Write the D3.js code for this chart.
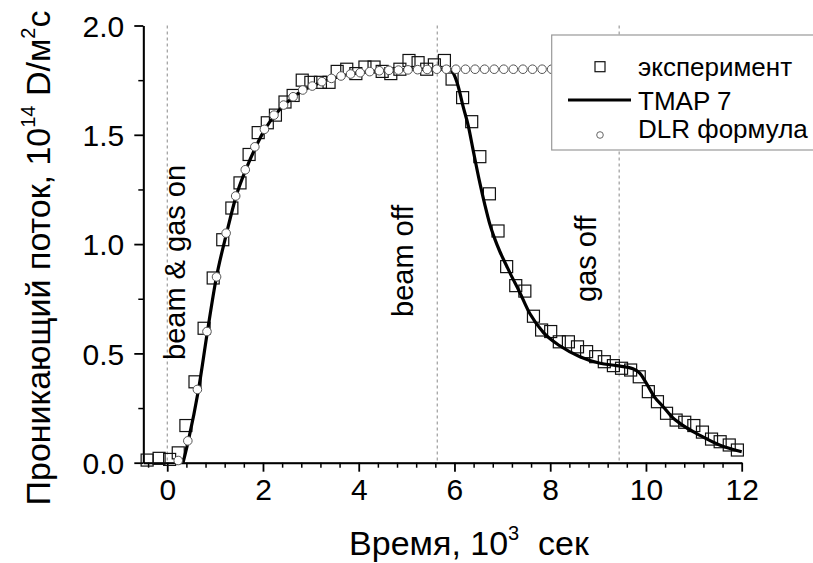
<!DOCTYPE html>
<html><head><meta charset="utf-8">
<script src="https://cdn.jsdelivr.net/npm/d3@7"></script>
<style>body{margin:0;background:#fff}svg{display:block}text{font-family:Arial,"Liberation Sans",sans-serif;fill:#000}</style>
</head><body><svg id="c" width="813" height="563"></svg>
<script>
// experiment (squares)
const expT = [-0.42,-0.17,0.05,0.23,0.39,0.58,0.77,0.96,1.16,1.35,1.52,1.71,1.90,2.09,2.26,2.46,2.63,2.82,3.00,3.20,3.38,3.55,3.75,3.94,4.13,4.32,4.49,4.67,4.86,5.05,5.24,5.42,5.58,5.79,5.95,6.17,6.36,6.53,6.73,6.91,7.09,7.28,7.47,7.65,7.82,8.01,8.19,8.38,8.57,8.76,8.95,9.13,9.32,9.49,9.68,9.86,10.05,10.24,10.43,10.63,10.81,11.00,11.18,11.37,11.55,11.74,11.91];
const expV = [0.012,0.02,0.015,0.045,0.17,0.37,0.615,0.845,1.02,1.165,1.28,1.41,1.51,1.555,1.59,1.65,1.68,1.75,1.74,1.74,1.74,1.79,1.80,1.78,1.81,1.81,1.79,1.78,1.80,1.84,1.83,1.80,1.82,1.84,1.755,1.67,1.56,1.40,1.23,1.06,0.897,0.81,0.785,0.67,0.607,0.60,0.553,0.553,0.53,0.508,0.485,0.462,0.444,0.432,0.424,0.393,0.325,0.279,0.226,0.195,0.185,0.17,0.14,0.108,0.096,0.081,0.058];
// TMAP 7 (line)
const tmapT = [0.33,0.44,0.65,0.84,1.02,1.24,1.44,1.64,1.85,2.04,2.25,2.44,2.65,2.84,3.04,3.24,3.45,3.64,3.84,4.04,4.44,4.83,5.43,5.90,5.98,6.08,6.18,6.29,6.39,6.53,6.64,6.74,6.84,6.95,7.09,7.20,7.33,7.58,7.86,8.20,8.62,9.04,9.39,9.73,9.87,10.01,10.18,10.36,10.54,10.71,11.13,11.55,12.00];
const tmapV = [0.0,0.10,0.33,0.60,0.84,1.05,1.22,1.34,1.445,1.525,1.59,1.636,1.674,1.705,1.723,1.743,1.758,1.769,1.778,1.784,1.793,1.797,1.80,1.80,1.78,1.72,1.63,1.54,1.43,1.28,1.175,1.09,1.025,0.965,0.90,0.85,0.795,0.68,0.595,0.535,0.485,0.455,0.444,0.43,0.41,0.363,0.30,0.256,0.21,0.18,0.125,0.08,0.05];
// DLR formula (circles)
const dlrT = [0.23,0.43,0.63,0.83,1.03,1.23,1.43,1.63,1.83,2.03,2.23,2.43,2.63,2.83,3.03,3.23,3.43,3.63,3.83,4.03,4.23,4.43,4.63,4.83,5.03,5.23,5.43,5.63,5.83,6.03,6.23,6.43,6.63,6.83,7.03,7.23,7.43,7.63,7.83,8.03,8.23,8.43,8.63,8.83,9.03];
const dlrV = [0.01,0.10,0.335,0.60,0.85,1.05,1.22,1.34,1.445,1.525,1.59,1.636,1.674,1.705,1.723,1.743,1.758,1.769,1.778,1.784,1.789,1.793,1.795,1.796,1.797,1.798,1.799,1.80,1.80,1.80,1.80,1.80,1.80,1.80,1.80,1.80,1.80,1.80,1.80,1.80,1.80,1.80,1.80,1.80,1.80];

const xTicks = [0,2,4,6,8,10,12];
const yTicks = [0.0,0.5,1.0,1.5,2.0];
const eventT = [0, 5.64, 9.44];
const eventLabels = ["beam & gas on","beam off","gas off"];
const legendLabels = ["эксперимент","TMAP 7","DLR формула"];

const svg = d3.select("#c");
svg.append("rect").attr("width",813).attr("height",563).attr("fill","#fff");
const x = d3.scaleLinear().domain([-0.5,12]).range([143.3,741.7]);
const y = d3.scaleLinear().domain([0,2]).range([462.7,25.5]);

// event lines
svg.append("g").selectAll("line").data(eventT).join("line")
  .attr("x1",d=>x(d)).attr("x2",d=>x(d)).attr("y1",y(2)).attr("y2",y(0))
  .attr("stroke","#888").attr("stroke-width",1).attr("stroke-dasharray","3,3");

// event labels
const evPos = [{b:185,s:360},{b:413,s:317},{b:596,s:302}];
svg.append("g").selectAll("text").data(eventLabels).join("text")
  .attr("transform",(d,i)=>`translate(${evPos[i].b},${evPos[i].s}) rotate(-90)`)
  .attr("font-size",29).text(d=>d);

// axes
const minorX = d3.range(-0.4,12,0.4).filter(v=>Math.abs(v/2-Math.round(v/2))>0.01);
const minorY = [0.25,0.75,1.25,1.75];
const gx = svg.append("g").attr("transform",`translate(0,${y(0)})`);
gx.call(d3.axisBottom(x).tickValues(minorX).tickSize(5).tickSizeOuter(0).tickFormat(""));
gx.call(g=>g.selectAll(".tick line").attr("stroke-width",1.5));
const gx2 = svg.append("g").attr("transform",`translate(0,${y(0)})`);
gx2.call(d3.axisBottom(x).tickValues(xTicks).tickSize(9).tickSizeOuter(0).tickPadding(7).tickFormat(d3.format("d")));
gx2.selectAll(".tick line").attr("stroke-width",1.8);
gx2.select(".domain").attr("stroke-width",2);
gx2.selectAll("text").attr("font-size",30).attr("font-family",null);

const gy = svg.append("g").attr("transform",`translate(${x(-0.5)},0)`);
gy.call(d3.axisLeft(y).tickValues(minorY).tickSize(5).tickSizeOuter(0).tickFormat(""));
gy.selectAll(".tick line").attr("stroke-width",1.5);
const gy2 = svg.append("g").attr("transform",`translate(${x(-0.5)},0)`);
gy2.call(d3.axisLeft(y).tickValues(yTicks).tickSize(9).tickSizeOuter(0).tickPadding(10).tickFormat(d3.format(".1f")));
gy2.selectAll(".tick line").attr("stroke-width",1.8);
gy2.select(".domain").attr("stroke-width",2);
gy2.selectAll("text").attr("font-size",30).attr("font-family",null).attr("dy","0.36em");

// axis titles
const xt = svg.append("text").attr("x",469).attr("y",555).attr("text-anchor","middle").attr("font-size",34);
xt.append("tspan").text("Время, 10");
xt.append("tspan").attr("font-size",20).attr("dy",-15).text("3");
xt.append("tspan").attr("dy",15).text("\u00a0 сек");

const yt = svg.append("text").attr("transform","translate(50,258) rotate(-90)").attr("text-anchor","middle").attr("font-size",34);
yt.append("tspan").text("Проникающий поток, 10");
yt.append("tspan").attr("font-size",20).attr("dy",-15).text("14");
yt.append("tspan").attr("dy",15).text(" D/м");
yt.append("tspan").attr("font-size",20).attr("dy",-15).text("2");
yt.append("tspan").attr("dy",15).text("с");

// experiment squares
const exp = expT.map((t,i)=>({t,v:expV[i]}));
const S = 12;
svg.append("g").selectAll("rect").data(exp).join("rect")
  .attr("x",d=>x(d.t)-S/2).attr("y",d=>y(d.v)-S/2).attr("width",S).attr("height",S)
  .attr("fill","none").attr("stroke","#111").attr("stroke-width",1.2);

// TMAP line
const tm = tmapT.map((t,i)=>({t,v:tmapV[i]}));
svg.append("path").datum(tm)
  .attr("d",d3.line().x(d=>x(d.t)).y(d=>y(d.v)).curve(d3.curveMonotoneX))
  .attr("fill","none").attr("stroke","#000").attr("stroke-width",3.2);

// DLR circles
const dl = dlrT.map((t,i)=>({t,v:dlrV[i]}));
svg.append("g").selectAll("circle").data(dl).join("circle")
  .attr("cx",d=>x(d.t)).attr("cy",d=>y(d.v)).attr("r",4.3)
  .attr("fill","#fff").attr("stroke","#555").attr("stroke-width",1);

// legend
const lg = svg.append("g");
lg.append("rect").attr("x",551.7).attr("y",35).attr("width",300).attr("height",115)
  .attr("fill","#fff").attr("stroke","#999").attr("stroke-width",1.2);
lg.append("rect").attr("x",595).attr("y",61.7).attr("width",10).attr("height",10)
  .attr("fill","none").attr("stroke","#111").attr("stroke-width",1.2);
lg.append("line").attr("x1",568).attr("x2",631).attr("y1",100).attr("y2",100)
  .attr("stroke","#000").attr("stroke-width",3.2);
lg.append("circle").attr("cx",600).attr("cy",135).attr("r",3.3)
  .attr("fill","#fff").attr("stroke","#666").attr("stroke-width",1);
const lgY = [76,110,138];
lg.selectAll("text.l").data(legendLabels).join("text").attr("class","l")
  .attr("x",638).attr("y",(d,i)=>lgY[i]).attr("font-size",26).text(d=>d);
</script></body></html>
